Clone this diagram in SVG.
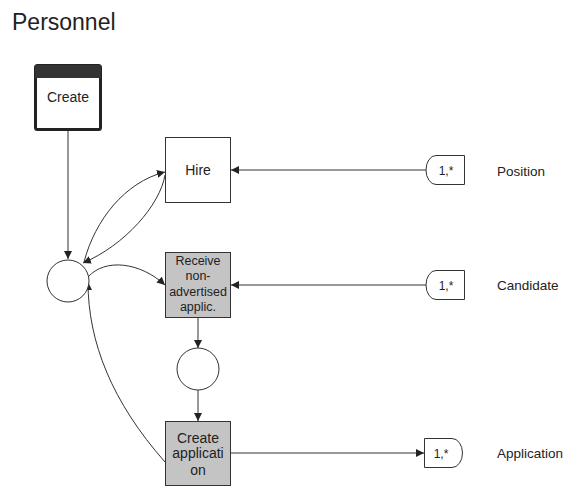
<svg xmlns="http://www.w3.org/2000/svg" width="565" height="487" viewBox="0 0 565 487">
  <style>
    text { font-family: "Liberation Sans", Arial, sans-serif; fill: #222; }
    .lbl { font-size: 12.5px; text-anchor: middle; }
    .big { font-size: 14px; }
    .tag { font-size: 12px; }
    .side { font-size: 13.5px; }
    .box { fill: #fff; stroke: #333; stroke-width: 1; }
    .grey { fill: #c4c4c4; stroke: #333; stroke-width: 1; }
    .edge { fill: none; stroke: #333; stroke-width: 1; }
    .place { fill: #fff; stroke: #333; stroke-width: 1; }
  </style>
  <defs>
    <marker id="arrow" viewBox="0 0 10 10" refX="10" refY="5" markerWidth="8" markerHeight="8" markerUnits="userSpaceOnUse" orient="auto">
      <path d="M0,0 L10,5 L0,10 Z" fill="#222"/>
    </marker>
  </defs>

  <rect width="565" height="487" fill="#fff"/>
  <text x="12" y="30" style="font-size:23px">Personnel</text>

  <g id="connectors">
    <!-- Create -> start place -->
    <line class="edge" x1="68" y1="131" x2="68" y2="259" marker-end="url(#arrow)"/>
    <!-- place -> Hire and back -->
    <path class="edge" d="M84,262 C95,220 125,182 165,172" marker-end="url(#arrow)"/>
    <path class="edge" d="M165,175 C160,205 125,245 83,263" marker-end="url(#arrow)"/>
    <!-- place -> Receive -->
    <path class="edge" d="M88,277 C105,258 140,262 165,285" marker-end="url(#arrow)"/>
    <!-- Create application -> place -->
    <path class="edge" d="M165,462 C112,402 88,342 88,282" marker-end="url(#arrow)"/>
    <!-- Receive -> place 2 -> Create application -->
    <line class="edge" x1="198" y1="318" x2="198" y2="348" marker-end="url(#arrow)"/>
    <line class="edge" x1="198" y1="390" x2="198" y2="421" marker-end="url(#arrow)"/>
    <!-- data links -->
    <line class="edge" x1="426" y1="170" x2="231" y2="170" marker-end="url(#arrow)"/>
    <line class="edge" x1="426" y1="285" x2="231" y2="285" marker-end="url(#arrow)"/>
    <line class="edge" x1="231" y1="453" x2="424" y2="453" marker-end="url(#arrow)"/>
  </g>

  <g id="create">
    <rect x="35.5" y="65.5" width="65" height="64" rx="2" fill="#fff" stroke="#222" stroke-width="3"/>
    <rect x="35" y="65" width="66" height="13" fill="#333"/>
    <text class="lbl big" x="68" y="102">Create</text>
  </g>

  <g id="hire">
    <rect class="box" x="165.5" y="137.5" width="65" height="65"/>
    <text class="lbl big" x="198" y="175">Hire</text>
  </g>

  <g id="place-start">
    <circle class="place" cx="68" cy="281" r="21"/>
  </g>

  <g id="receive">
    <rect class="grey" x="165.5" y="252.5" width="65" height="65"/>
    <text class="lbl" x="198" y="265">Receive</text>
    <text class="lbl" x="198" y="280">non-</text>
    <text class="lbl" x="198" y="296">advertised</text>
    <text class="lbl" x="198" y="311">applic.</text>
  </g>

  <g id="place-mid">
    <circle class="place" cx="198" cy="369" r="21"/>
  </g>

  <g id="create-application">
    <rect class="grey" x="165.5" y="421.5" width="65" height="64"/>
    <text class="lbl big" x="198" y="443">Create</text>
    <text class="lbl big" x="198" y="458">applicati</text>
    <text class="lbl big" x="198" y="475">on</text>
  </g>

  <g id="position">
    <path class="box" d="M464.5,155.5 H436 A10,14.5 0 0 0 436,184.5 H464.5 Z"/>
    <text class="lbl tag" x="446" y="175">1,*</text>
    <text class="side" x="497" y="176">Position</text>
  </g>

  <g id="candidate">
    <path class="box" d="M464.5,270.5 H436 A10,14.5 0 0 0 436,299.5 H464.5 Z"/>
    <text class="lbl tag" x="446" y="290">1,*</text>
    <text class="side" x="497" y="290">Candidate</text>
  </g>

  <g id="application">
    <path class="box" d="M424.5,438.5 H452 A10.5,14.5 0 0 1 452,467.5 H424.5 Z"/>
    <text class="lbl tag" x="441" y="458">1,*</text>
    <text class="side" x="497" y="458">Application</text>
  </g>
</svg>
